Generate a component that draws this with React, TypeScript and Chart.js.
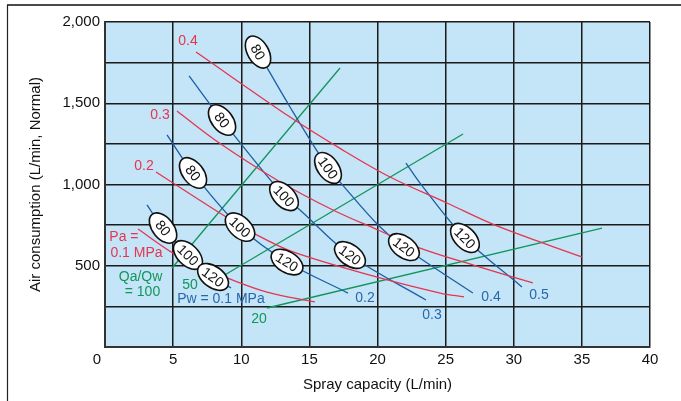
import React, { useEffect, useRef } from 'react';
import { Chart, registerables } from 'chart.js';

Chart.register(...registerables);

// Axes
const xMin = 0;
const xMax = 40;
const xStep = 5;
const yMin = 0;
const yMax = 2000;
const yGridStep = 250;
const yLabelStep = 500;
const xTitle = 'Spray capacity (L/min)';
const yTitle = 'Air consumption (L/min, Normal)';

// Constant air pressure curves (Pa, MPa)
const pa01X = [2.42, 4.99, 6.97, 8.95, 11.89, 15.41];
const pa01Y = [726, 578, 492, 425, 338, 277];
const pa02X = [3.74, 8.66, 10.86, 13.8, 20.18, 24.6, 26.35];
const pa02Y = [1077, 812, 702, 585, 425, 332, 308];
const pa03X = [5.28, 8.07, 12.62, 16.73, 20.04, 23.12, 27.52, 31.4];
const pa03Y = [1452, 1274, 1028, 843, 720, 609, 492, 394];
const pa04X = [6.68, 13.58, 17.25, 20.92, 25.1, 28.77, 35.0];
const pa04Y = [1815, 1415, 1222, 1046, 886, 745, 554];

// Constant water pressure curves (Pw, MPa)
const pw01X = [3.08, 4.26, 6.09, 7.93, 9.25];
const pw01Y = [874, 732, 566, 431, 363];
const pw02X = [4.55, 6.46, 9.91, 13.36, 17.83];
const pw02Y = [1305, 1071, 738, 523, 332];
const pw03X = [6.17, 8.59, 13.14, 14.31, 17.98, 23.56];
const pw03Y = [1668, 1397, 929, 843, 566, 289];
const pw04X = [11.23, 13.58, 16.37, 17.25, 20.04, 21.94, 27.0];
const pw04Y = [1815, 1477, 1102, 1015, 751, 615, 332];
const pw05X = [22.09, 23.12, 26.42, 30.6];
const pw05Y = [1132, 1009, 671, 369];

// Air / water ratio lines (Qa/Qw)
const qa100X = [4.92, 17.25];
const qa100Y = [486, 1717];
const qa50X = [8.66, 26.28];
const qa50Y = [437, 1311];
const qa20X = [11.89, 36.48];
const qa20Y = [240, 732];

// Oval markers on the water pressure curves (index into Pw curves)
const ovalCurve = [0, 0, 0, 1, 1, 1, 2, 2, 2, 3, 3, 3, 4];
const ovalText = ['80', '100', '120', '80', '100', '120', '80', '100', '120', '80', '100', '120', '120'];
const ovalX = [4.26, 6.09, 7.93, 6.46, 9.91, 13.36, 8.59, 13.14, 17.98, 11.23, 16.37, 21.94, 26.42];
const ovalY = [732, 566, 431, 1071, 738, 523, 1397, 929, 566, 1815, 1102, 615, 671];

// Curve labels
const labelText = ['0.4', '0.3', '0.2', 'Pa =', '0.1 MPa', 'Qa/Qw', '= 100', '50', '20', 'Pw = 0.1 MPa', '0.2', '0.3', '0.4', '0.5'];
const labelGroup = ['pa', 'pa', 'pa', 'pa', 'pa', 'qa', 'qa', 'qa', 'qa', 'pw', 'pw', 'pw', 'pw', 'pw'];
const labelX = [6.09, 4.04, 2.86, 1.39, 2.31, 2.61, 2.75, 6.24, 11.3, 8.51, 19.08, 24.0, 28.33, 31.85];
const labelY = [1883, 1428, 1114, 677, 578, 431, 338, 382, 172, 295, 302, 197, 308, 320];

const RED = '#e5354f';
const BLUE = '#1c5fa6';
const BLUE_TEXT = '#2a66ad';
const GREEN = '#12955b';
const PLOT_BG = '#c4e5f7';
const FONT = '"Liberation Sans", Arial, sans-serif';

const zip = (xs: number[], ys: number[]) => xs.map((x, i) => ({ x, y: ys[i] }));

const paCurves = [[pa01X, pa01Y], [pa02X, pa02Y], [pa03X, pa03Y], [pa04X, pa04Y]];
const pwCurves = [[pw01X, pw01Y], [pw02X, pw02Y], [pw03X, pw03Y], [pw04X, pw04Y], [pw05X, pw05Y]];
const qaLines = [[qa100X, qa100Y], [qa50X, qa50Y], [qa20X, qa20Y]];

function tangentAngle(xs: number[], ys: number[], xv: number, xs2: any, ys2: any) {
  const px = xs.map((v) => xs2.getPixelForValue(v));
  const py = ys.map((v) => ys2.getPixelForValue(v));
  const p = xs2.getPixelForValue(xv);
  const seg = (i: number) => Math.atan2(py[i + 1] - py[i], px[i + 1] - px[i]);
  let i = 0;
  while (i < px.length - 2 && px[i + 1] <= p) i++;
  let a = seg(i);
  if (Math.abs(px[i] - p) < 2 && i > 0) a = (a + seg(i - 1)) / 2;
  else if (Math.abs(px[i + 1] - p) < 2 && i + 1 < px.length - 1) a = (a + seg(i + 1)) / 2;
  return a;
}

const decorPlugin = {
  id: 'decor',
  beforeDraw(chart: any) {
    const { ctx, chartArea } = chart;
    ctx.save();
    ctx.fillStyle = '#ffffff';
    ctx.fillRect(0, 0, chart.width, chart.height);
    // frame
    ctx.strokeStyle = '#4a4a4a';
    ctx.lineWidth = 2;
    ctx.beginPath();
    ctx.moveTo(7, 5);
    ctx.lineTo(chart.width, 5);
    ctx.stroke();
    ctx.lineWidth = 1.2;
    ctx.strokeStyle = '#222';
    ctx.beginPath();
    ctx.moveTo(7.5, 5);
    ctx.lineTo(7.5, chart.height);
    ctx.stroke();
    // plot background
    ctx.fillStyle = PLOT_BG;
    ctx.fillRect(chartArea.left, chartArea.top, chartArea.right - chartArea.left, chartArea.bottom - chartArea.top);
    ctx.restore();
  },
  afterDatasetsDraw(chart: any) {
    const { ctx, chartArea } = chart;
    const xs = chart.scales.x;
    const ys = chart.scales.y;
    ctx.save();
    // text labels
    ctx.font = `14px ${FONT}`;
    ctx.textAlign = 'center';
    ctx.textBaseline = 'middle';
    labelText.forEach((t, i) => {
      const g = labelGroup[i];
      ctx.fillStyle = g === 'pa' ? RED : g === 'pw' ? BLUE_TEXT : GREEN;
      ctx.fillText(t, xs.getPixelForValue(labelX[i]), ys.getPixelForValue(labelY[i]));
    });
    // ovals
    ovalText.forEach((t, i) => {
      const [cx, cy] = pwCurves[ovalCurve[i]];
      const ang = tangentAngle(cx, cy, ovalX[i], xs, ys);
      const px = xs.getPixelForValue(ovalX[i]);
      const py = ys.getPixelForValue(ovalY[i]);
      ctx.save();
      ctx.translate(px, py);
      ctx.rotate(ang);
      ctx.beginPath();
      ctx.ellipse(0, 0, 17.5, 10.5, 0, 0, Math.PI * 2);
      ctx.fillStyle = '#ffffff';
      ctx.fill();
      ctx.lineWidth = 1.6;
      ctx.strokeStyle = '#111';
      ctx.stroke();
      ctx.fillStyle = '#111';
      ctx.font = `14px ${FONT}`;
      ctx.textAlign = 'center';
      ctx.textBaseline = 'middle';
      ctx.fillText(t, 0, 1);
      ctx.restore();
    });
    // shared origin label
    ctx.fillStyle = '#111';
    ctx.font = `15px ${FONT}`;
    ctx.textAlign = 'center';
    ctx.textBaseline = 'middle';
    ctx.fillText(String(xMin), xs.getPixelForValue(xMin) - 8, chartArea.bottom + 13);
    ctx.restore();
  },
};

export default function App() {
  const ref = useRef<HTMLCanvasElement | null>(null);
  useEffect(() => {
    if (!ref.current) return;
    const datasets: any[] = [];
    paCurves.forEach(([x, y]) =>
      datasets.push({ data: zip(x, y), borderColor: RED, borderWidth: 1.3, pointRadius: 0, showLine: true, tension: 0.35, fill: false })
    );
    pwCurves.forEach(([x, y]) =>
      datasets.push({ data: zip(x, y), borderColor: BLUE, borderWidth: 1.3, pointRadius: 0, showLine: true, tension: 0.35, fill: false })
    );
    qaLines.forEach(([x, y]) =>
      datasets.push({ data: zip(x, y), borderColor: GREEN, borderWidth: 1.3, pointRadius: 0, showLine: true, tension: 0, fill: false })
    );
    const chart = new Chart(ref.current, {
      type: 'scatter',
      data: { datasets },
      plugins: [decorPlugin],
      options: {
        animation: false,
        responsive: false,
        maintainAspectRatio: false,
        layout: { padding: { left: 24, right: 31, top: 22, bottom: 0 } },
        plugins: { legend: { display: false }, tooltip: { enabled: false } },
        scales: {
          x: {
            type: 'linear',
            min: xMin,
            max: xMax,
            ticks: {
              stepSize: xStep,
              padding: 4,
              color: '#111',
              font: { family: FONT, size: 15 },
              callback: (v: any) => (v === xMin ? '' : String(v)),
              maxRotation: 0,
            },
            grid: { color: '#1a1a1a', lineWidth: 1.5, drawTicks: false },
            border: { color: '#333', width: 2 },
            title: { display: true, text: xTitle, color: '#111', font: { family: FONT, size: 15 }, padding: { top: 0, bottom: 7 } },
            afterFit: (s: any) => {
              s.height = 54;
            },
          },
          y: {
            type: 'linear',
            min: yMin,
            max: yMax,
            ticks: {
              stepSize: yGridStep,
              padding: 5,
              color: '#111',
              font: { family: FONT, size: 15 },
              callback: (v: any) => (v > 0 && v % yLabelStep === 0 ? Number(v).toLocaleString('en-US') : ''),
            },
            grid: { color: '#1a1a1a', lineWidth: 1.5, drawTicks: false },
            border: { color: '#333', width: 2 },
            title: { display: true, text: yTitle, color: '#111', font: { family: FONT, size: 15 }, padding: { top: 3, bottom: 0 } },
            afterFit: (s: any) => {
              s.width = 81;
            },
          },
        },
      },
    });
    return () => chart.destroy();
  }, []);
  return (
    <div style={{ position: 'fixed', left: 0, top: 0, width: 681, height: 401, background: '#fff' }}>
      <canvas ref={ref} width={681} height={401} style={{ width: 681, height: 401, display: 'block' }} />
    </div>
  );
}
